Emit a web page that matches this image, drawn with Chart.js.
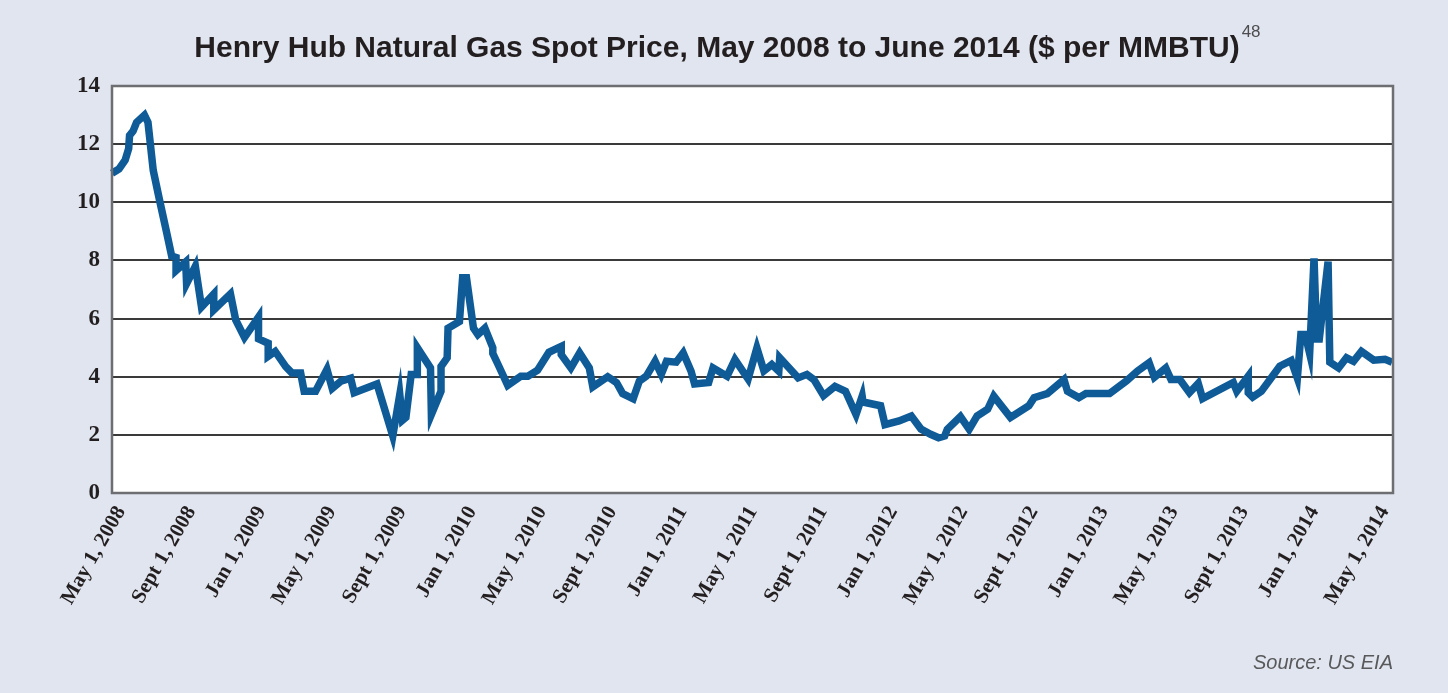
<!DOCTYPE html>
<html>
<head>
<meta charset="utf-8">
<script src="https://cdn.jsdelivr.net/npm/chart.js@4.4.1/dist/chart.umd.min.js"></script>
<style>
html,body{margin:0;padding:0;background:#e1e5ef;}
canvas{display:block;}
</style>
</head>
<body>
<canvas id="c" width="1448" height="693"></canvas>
<script>
// Tick labels every 4 months starting May 1, 2008
const tickLabels = ["May 1, 2008","Sept 1, 2008","Jan 1, 2009","May 1, 2009","Sept 1, 2009",
  "Jan 1, 2010","May 1, 2010","Sept 1, 2010","Jan 1, 2011","May 1, 2011","Sept 1, 2011",
  "Jan 1, 2012","May 1, 2012","Sept 1, 2012","Jan 1, 2013","May 1, 2013","Sept 1, 2013",
  "Jan 1, 2014","May 1, 2014"];

const monthsSinceStart = [
  0.0,0.4,0.75,0.95,1.0,1.2,1.4,1.85,2.05,2.35,2.7,3.1,3.4,3.65,3.65,4.2,4.25,4.75,5.1,5.8,
  5.8,6.75,7.05,7.55,8.35,8.35,8.9,8.9,9.3,9.9,10.25,10.75,10.95,11.6,12.25,12.55,13.05,13.6,13.8,15.1,
  16.0,16.4,16.55,16.75,17.05,17.4,17.4,18.15,18.2,18.75,18.75,19.1,19.15,19.8,19.98,20.2,20.6,20.85,21.25,21.7,
  21.7,22.0,22.55,23.3,23.7,24.25,24.9,25.6,25.6,26.15,26.65,27.2,27.4,28.25,28.75,29.1,29.7,30.05,30.45,30.95,
  31.3,31.6,32.15,32.55,33.0,33.2,34.0,34.25,35.05,35.5,36.25,36.75,37.15,37.6,38.0,38.05,39.1,39.6,40.0,40.55,
  41.2,41.8,42.4,42.75,42.8,43.8,44.05,44.85,45.55,46.1,46.65,47.1,47.45,47.6,48.35,48.85,49.3,49.9,50.25,51.2,
  52.25,52.55,53.3,54.25,54.45,55.1,55.5,56.85,57.8,58.45,59.1,59.4,60.05,60.35,60.85,61.4,61.9,62.15,63.9,64.1,
  64.75,64.75,65.0,65.5,66.55,67.2,67.55,67.75,68.0,68.25,68.5,68.65,68.8,69.3,69.4,69.9,70.35,70.75,71.2,71.9,
  72.55,72.95
];

// Henry Hub spot price, $ per MMBTU
const prices = [
  11.0,11.15,11.45,11.85,12.3,12.45,12.75,13.0,12.75,11.1,10.1,9.0,8.15,8.1,7.65,7.95,7.2,7.8,6.4,6.85,
  6.3,6.85,5.95,5.35,6.05,5.3,5.15,4.7,4.87,4.35,4.13,4.13,3.5,3.5,4.25,3.6,3.85,3.95,3.45,3.75,
  1.96,3.39,2.5,2.6,4.08,4.08,5.0,4.3,2.7,3.5,4.35,4.65,5.67,5.9,7.4,7.4,5.67,5.45,5.67,5.0,
  4.8,4.42,3.7,4.02,4.02,4.22,4.84,5.04,4.76,4.3,4.82,4.3,3.65,4.0,3.8,3.42,3.24,3.85,4.02,4.53,
  4.08,4.53,4.5,4.82,4.19,3.75,3.8,4.3,4.02,4.59,3.92,4.99,4.2,4.42,4.19,4.65,3.96,4.08,3.9,3.35,
  3.67,3.5,2.7,3.33,3.13,3.0,2.35,2.48,2.65,2.2,2.02,1.9,1.96,2.19,2.63,2.19,2.65,2.88,3.33,2.6,
  3.0,3.28,3.42,3.9,3.5,3.28,3.42,3.42,3.85,4.2,4.48,3.98,4.3,3.9,3.9,3.45,3.77,3.25,3.8,3.5,
  4.02,3.45,3.3,3.5,4.36,4.56,3.95,5.45,5.45,4.8,8.07,5.3,5.3,7.96,4.5,4.3,4.65,4.53,4.87,4.57,
  4.6,4.5
];

const yTicks = [0,2,4,6,8,10,12,14];

const titleText = "Henry Hub Natural Gas Spot Price, May 2008 to June 2014 ($ per MMBTU)";
const footnoteRef = "48";
const sourceText = "Source: US EIA";

const points = monthsSinceStart.map((m, i) => ({x: m, y: prices[i]}));

const PAGE_BG = '#e1e5ef';
const FRAME = '#6d6e71';

const bgPlugin = {
  id: 'bg',
  beforeDraw(chart) {
    const {ctx, chartArea: a} = chart;
    ctx.save();
    ctx.fillStyle = PAGE_BG;
    ctx.fillRect(0, 0, chart.width, chart.height);
    ctx.fillStyle = '#ffffff';
    ctx.fillRect(a.left, a.top, a.right - a.left, a.bottom - a.top);
    ctx.restore();
    // nudge the rotated date labels slightly right/down, as in the original layout
    const sx = chart.scales.x;
    try {
      const items = sx.getLabelItems();
      items.forEach(it => {
        if (!it._nudged && it.options && it.options.translation) {
          it.options.translation[0] += 9;
          it.options.translation[1] += 5;
          it._nudged = true;
        }
      });
    } catch (e) {}
  },
  afterDraw(chart) {
    const {ctx, chartArea: a} = chart;
    ctx.save();
    ctx.strokeStyle = FRAME;
    ctx.lineWidth = 2.5;
    ctx.strokeRect(a.left, a.top, a.right - a.left, a.bottom - a.top);
    // footnote superscript after the title
    const tb = chart.titleBlock;
    if (tb) {
      const f = chart.options.plugins.title.font;
      ctx.font = `${f.weight} ${f.size}px ${f.family}`;
      const w = ctx.measureText(titleText).width;
      const cx = tb.left + tb.width / 2;
      const cy = tb.top + tb.height / 2;
      ctx.font = '17px "Liberation Sans"';
      ctx.fillStyle = '#4d4d4f';
      ctx.textAlign = 'left';
      ctx.textBaseline = 'middle';
      ctx.fillText(footnoteRef, cx + w / 2 + 2, cy - 11);
    }
    ctx.restore();
  }
};

new Chart(document.getElementById('c'), {
  type: 'line',
  data: {
    datasets: [{
      data: points,
      borderColor: '#0f5b98',
      borderWidth: 7.5,
      pointRadius: 0,
      tension: 0,
      fill: false,
      clip: 4
    }]
  },
  options: {
    responsive: false,
    animation: false,
    devicePixelRatio: 1,
    layout: {padding: {left: 41, right: 55, top: 0, bottom: 18}},
    plugins: {
      legend: {display: false},
      tooltip: {enabled: false},
      title: {
        display: true,
        text: titleText,
        color: '#231f20',
        font: {family: '"Liberation Sans"', weight: 'bold', size: 30},
        padding: {top: 31, bottom: 19}
      },
      subtitle: {
        display: true,
        text: sourceText,
        position: 'bottom',
        align: 'end',
        color: '#58595b',
        font: {family: '"Liberation Sans"', style: 'italic', weight: 'normal', size: 20},
        padding: {top: 0, bottom: 0}
      }
    },
    scales: {
      x: {
        type: 'linear',
        min: 0,
        max: 73,
        grid: {display: false, drawTicks: false},
        border: {display: false},
        afterFit(scale) { scale.height = 158; },
        ticks: {
          stepSize: 4,
          includeBounds: false,
          autoSkip: false,
          minRotation: 60,
          maxRotation: 60,
          padding: 4,
          color: '#231f20',
          font: {family: '"Liberation Serif"', weight: 'bold', size: 21},
          callback: (v) => (v % 4 === 0 ? tickLabels[v / 4] : '')
        }
      },
      y: {
        min: 0,
        max: 14,
        afterFit(scale) { scale.width = 71; },
        afterBuildTicks(scale) { scale.ticks = yTicks.map(v => ({value: v})); },
        grid: {color: '#3a3a3a', lineWidth: 2, drawTicks: false},
        border: {display: false},
        ticks: {
          padding: 12,
          color: '#231f20',
          font: {family: '"Liberation Serif"', weight: 'bold', size: 23}
        }
      }
    }
  },
  plugins: [bgPlugin]
});
</script>
</body>
</html>
